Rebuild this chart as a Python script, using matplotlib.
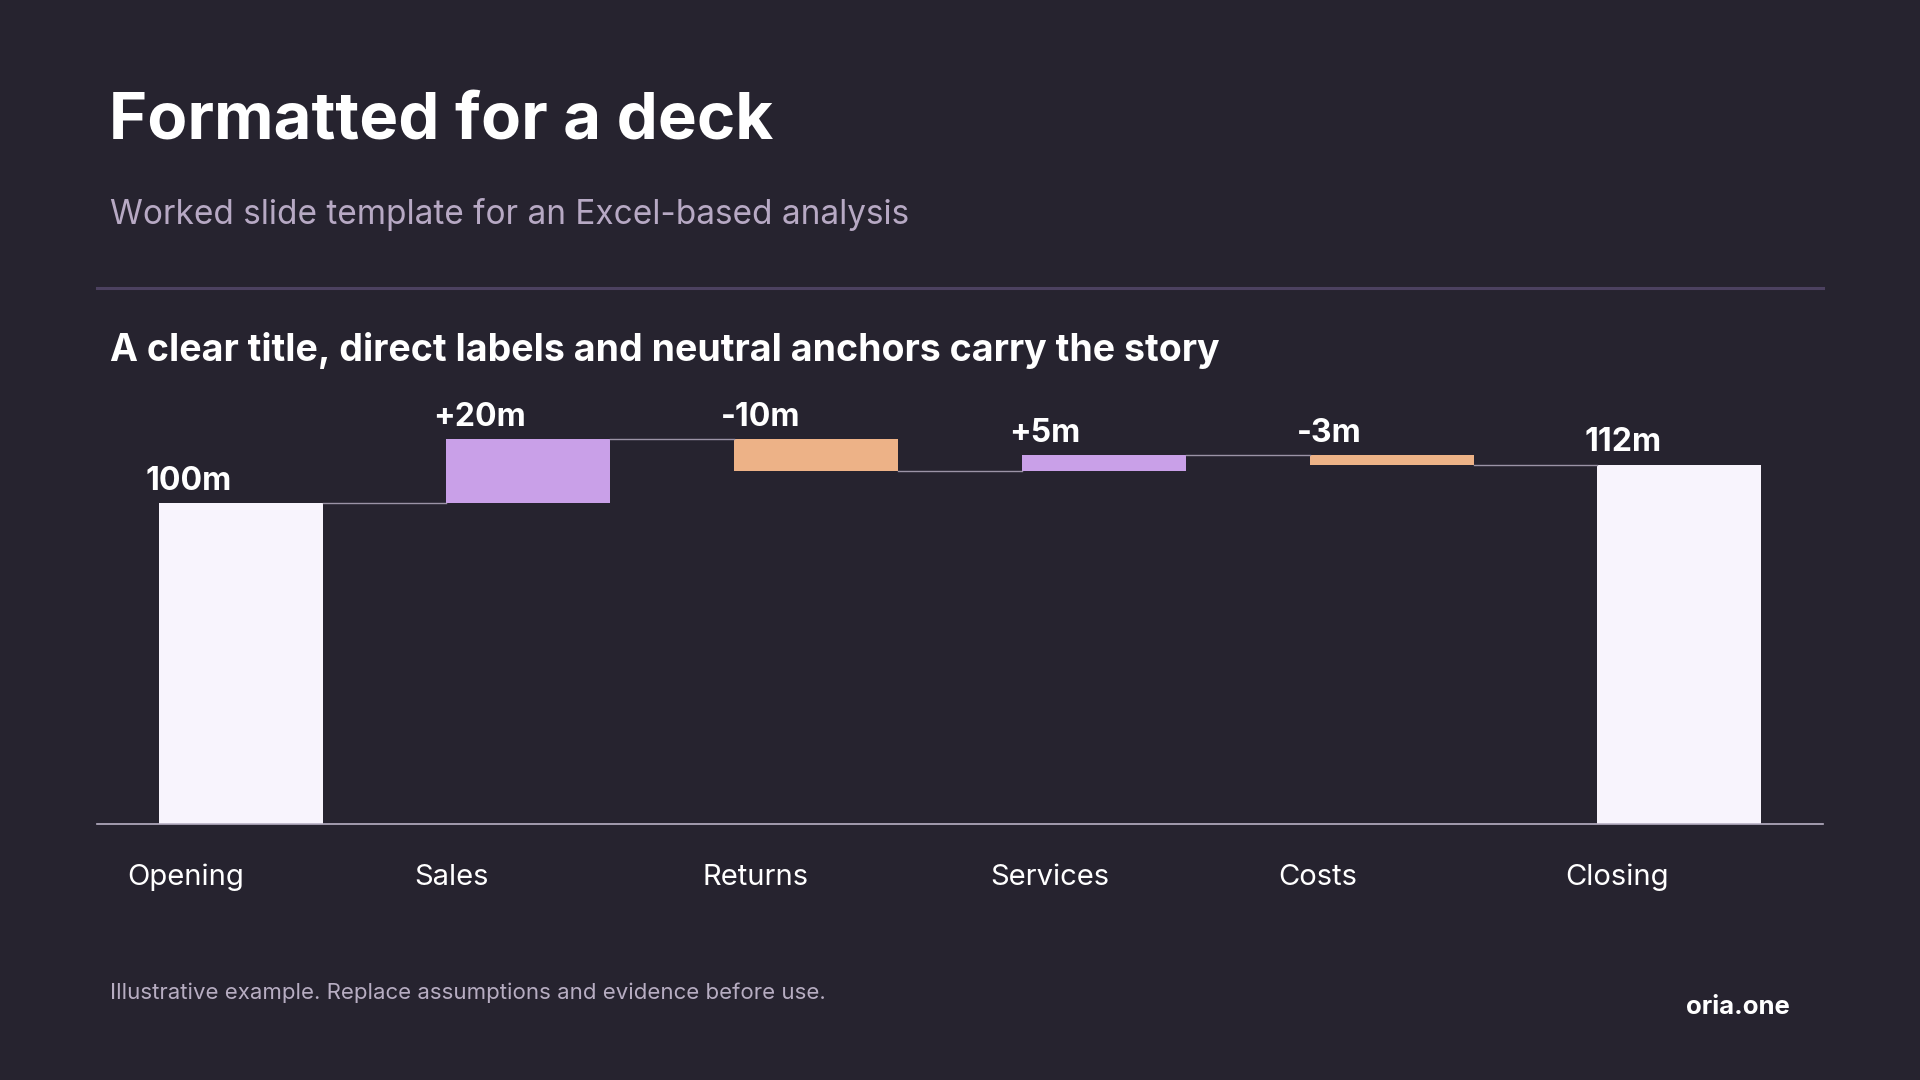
import matplotlib
matplotlib.use("Agg")
import matplotlib.pyplot as plt
from matplotlib.lines import Line2D

categories = ["Opening", "Sales", "Returns", "Services", "Costs", "Closing"]
values = [100, 20, -10, 5, -3, 112]
labels = ["100m", "+20m", "-10m", "+5m", "-3m", "112m"]
kinds = ["total", "delta", "delta", "delta", "delta", "total"]

BG = "#26232f"
TOTAL_C = "#f8f4fd"
POS_C = "#c9a0e8"
NEG_C = "#edb287"
plt.rcParams['font.family'] = ['Inter', 'DejaVu Sans']

W, H = 1568, 882
fig = plt.figure(figsize=(19.2, 10.8), dpi=100, facecolor=BG)
def fx(x): return x / W
def fy(y): return 1 - y / H

fig.text(fx(89), fy(100), "Formatted for a deck", color="white", fontsize=47, fontweight="bold", va="center")
fig.text(fx(90), fy(175), "Worked slide template for an Excel-based analysis", color="#b7a9c4", fontsize=24, va="center")
fig.add_artist(Line2D([fx(79), fx(1489)], [fy(235), fy(235)], color="#4c4160", lw=2.2, transform=fig.transFigure))
fig.text(fx(90), fy(286), "A clear title, direct labels and neutral anchors carry the story", color="white", fontsize=27, fontweight="bold", va="center")
fig.text(fx(90), fy(811), "Illustrative example. Replace assumptions and evidence before use.", color="#b7adc2", fontsize=16, va="center")
fig.text(fx(1462), fy(823), "oria.one", color="white", fontsize=18.5, fontweight="bold", va="center", ha="right")

ax = fig.add_axes([fx(79), fy(673), fx(1489) - fx(79), fy(330) - fy(673)])
ax.set_facecolor(BG)
ax.set_xlim(-0.5, len(categories) - 0.5)
ax.set_ylim(0, 343 / 2.62)
bw = 0.57
running = 0
for i, (v, k, lab) in enumerate(zip(values, kinds, labels)):
    if k == "total":
        bottom, height, color = 0, v, TOTAL_C
        running = v
        top = v
    else:
        if v >= 0:
            bottom, height, color = running, v, POS_C
        else:
            bottom, height, color = running + v, -v, NEG_C
        running += v
        top = bottom + height
    ax.bar(i, height, bottom=bottom, width=bw, color=color, linewidth=0)
    if i < len(values) - 1:
        ax.plot([i + bw / 2, i + 1 - bw / 2], [running, running], color="#9b93a6", lw=1)
    ax.text(i - bw / 2 - 0.045, top + 2, lab, color="white", fontsize=23, fontweight="bold", ha="left", va="bottom")
    ax.text(i - 0.395, -16.5, categories[i], color="white", fontsize=21, ha="left", va="center", clip_on=False)

for s in ["top", "right", "left"]:
    ax.spines[s].set_visible(False)
ax.spines["bottom"].set_color("#b8b0c4")
ax.spines["bottom"].set_linewidth(1.2)
ax.set_xticks([])
ax.set_yticks([])

fig.savefig("out.png", dpi=100, facecolor=BG)
